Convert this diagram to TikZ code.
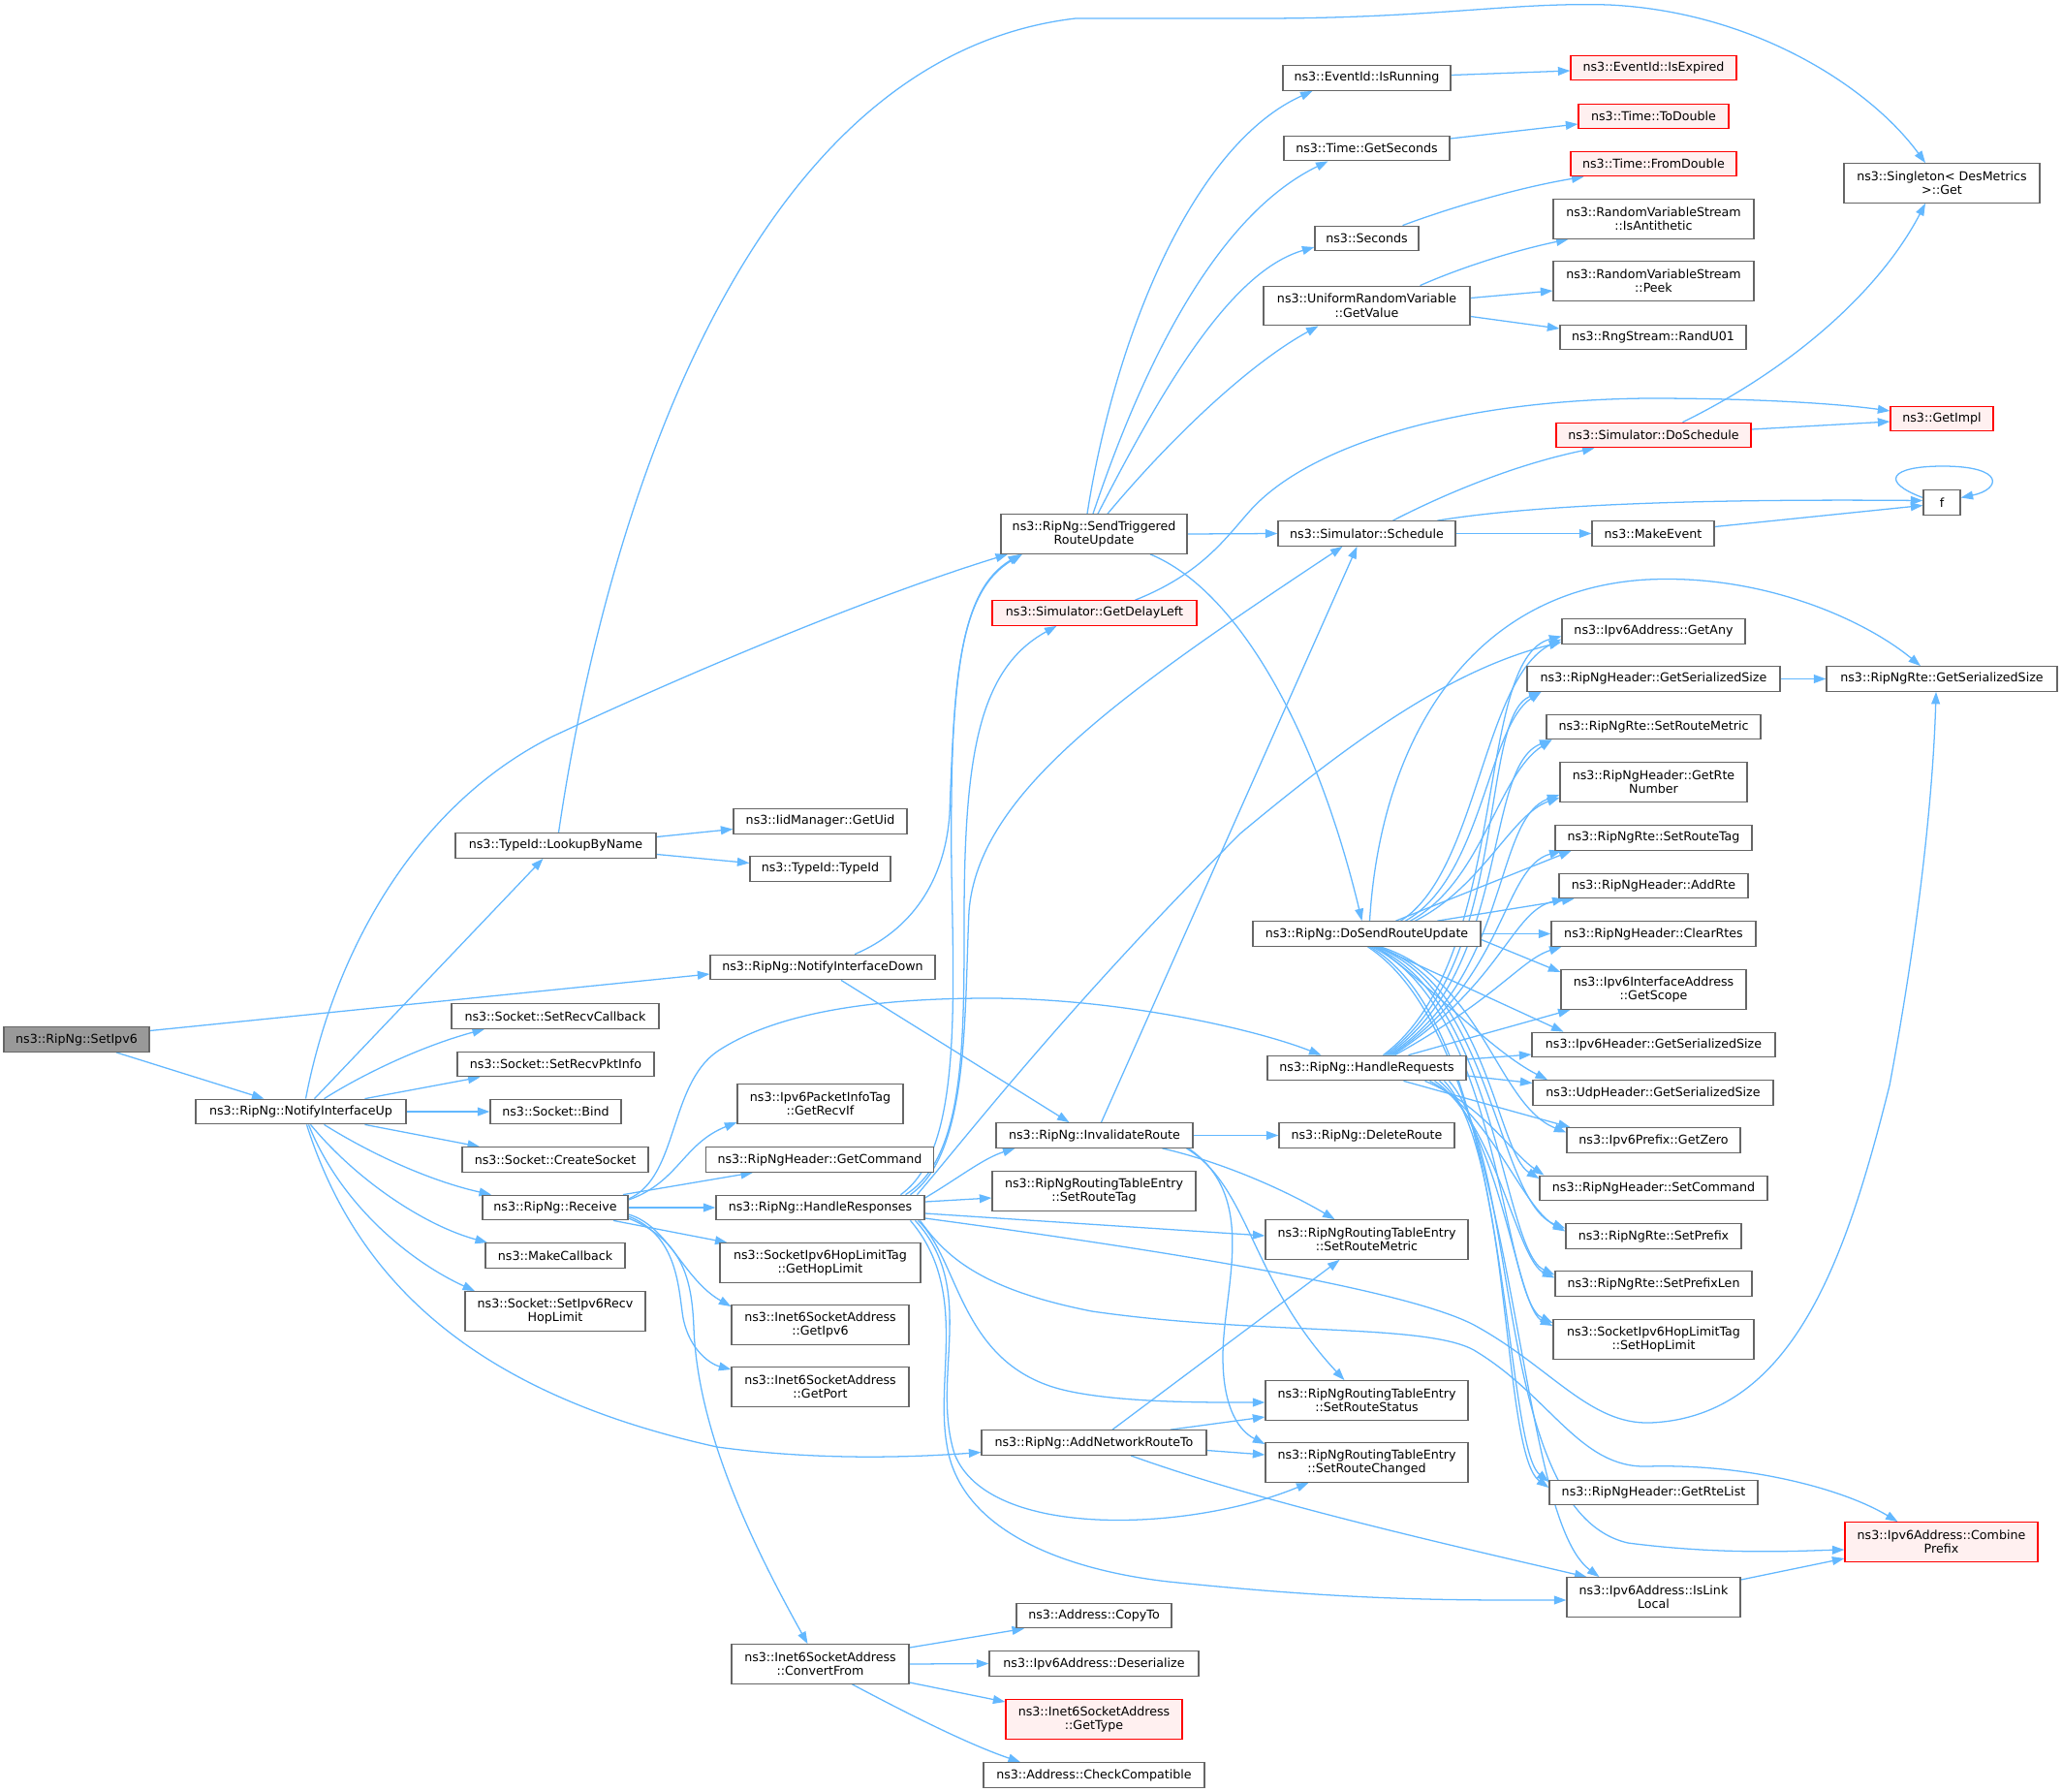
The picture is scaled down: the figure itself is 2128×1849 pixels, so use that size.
\documentclass[tikz,border=0pt]{standalone}
\usepackage{fontspec}
\newfontfamily\dv{DejaVu Sans}
\usetikzlibrary{arrows.meta}
\definecolor{edgec}{HTML}{63B8FF}
\definecolor{boxc}{HTML}{666666}
\definecolor{redfill}{HTML}{FFF0F0}
\definecolor{rootfill}{HTML}{999999}
\pgfdeclarelayer{bg}
\pgfsetlayers{bg,main}
\begin{document}
\begin{tikzpicture}[x=1pt,y=-1pt,
  fn/.style={draw=boxc, fill=white, line width=1.27pt, inner sep=0pt, minimum height=25.5pt, align=center, font=\dv\fontsize{12.65}{14.5}\selectfont, text=black},
  fn2/.style={fn, minimum height=40.5pt},
  rd/.style={draw=red, fill=redfill},
  rt/.style={fill=rootfill},
  e/.style={draw=edgec, line width=1.27pt, -{Triangle[length=12.5pt,width=8.8pt]}}
]
\useasboundingbox (0,0) rectangle (2128,1849);

% ---------- nodes ----------
\node[fn,rt,minimum width=150] (setipv6) at (79,1072.5) {ns3::RipNg::SetIpv6};
\node[fn,minimum width=217] (niup) at (310.5,1147) {ns3::RipNg::NotifyInterfaceUp};
\node[fn,minimum width=207] (lookup) at (573.5,872.5) {ns3::TypeId::LookupByName};
\node[fn,minimum width=179] (getuid) at (846.5,847.5) {ns3::IidManager::GetUid};
\node[fn,minimum width=145] (typeid) at (846.5,896.5) {ns3::TypeId::TypeId};
\node[fn,minimum width=232] (nidown) at (849,998) {ns3::RipNg::NotifyInterfaceDown};
\node[fn,minimum width=214] (srcb) at (573,1048.5) {ns3::Socket::SetRecvCallback};
\node[fn,minimum width=203] (srpi) at (573.5,1098) {ns3::Socket::SetRecvPktInfo};
\node[fn,minimum width=135] (bind) at (573.5,1147) {ns3::Socket::Bind};
\node[fn,minimum width=192] (csock) at (573,1196.5) {ns3::Socket::CreateSocket};
\node[fn,minimum width=150] (recv) at (573,1246) {ns3::RipNg::Receive};
\node[fn,minimum width=144] (mkcb) at (573,1295.5) {ns3::MakeCallback};
\node[fn2,minimum width=186] (sihl) at (573,1353) {ns3::Socket::SetIpv6Recv\\HopLimit};
\node[fn2,minimum width=192] (strig) at (1129,551) {ns3::RipNg::SendTriggered\\RouteUpdate};
\node[fn,rd,minimum width=211] (gdl) at (1129.5,632.5) {ns3::Simulator::GetDelayLeft};
\node[fn,minimum width=173] (irun) at (1410.5,80.5) {ns3::EventId::IsRunning};
\node[fn,minimum width=171] (gsec) at (1410.5,153) {ns3::Time::GetSeconds};
\node[fn,minimum width=107] (secs) at (1410.5,246) {ns3::Seconds};
\node[fn2,minimum width=213] (urv) at (1410.5,315.5) {ns3::UniformRandomVariable\\::GetValue};
\node[fn,minimum width=183] (sched) at (1410.5,550.5) {ns3::Simulator::Schedule};
\node[fn,rd,minimum width=171] (isexp) at (1706.5,70) {ns3::EventId::IsExpired};
\node[fn,rd,minimum width=155] (todbl) at (1706.5,120) {ns3::Time::ToDouble};
\node[fn,rd,minimum width=171] (fromdbl) at (1706.5,169) {ns3::Time::FromDouble};
\node[fn2,minimum width=207] (anti) at (1706.5,226) {ns3::RandomVariableStream\\::IsAntithetic};
\node[fn2,minimum width=207] (peek) at (1706.5,290) {ns3::RandomVariableStream\\::Peek};
\node[fn,minimum width=192] (randu) at (1706,348) {ns3::RngStream::RandU01};
\node[fn2,minimum width=202] (singleton) at (2004,189) {ns3::Singleton< DesMetrics\\ >::Get};
\node[fn,rd,minimum width=106] (getimpl) at (2004,432) {ns3::GetImpl};
\node[fn,rd,minimum width=201] (dosched) at (1706.5,449) {ns3::Simulator::DoSchedule};
\node[fn,minimum width=38] (f) at (2004,518.5) {f};
\node[fn,minimum width=126] (mkev) at (1706,550.5) {ns3::MakeEvent};
\node[fn,minimum width=235] (dosend) at (1410.5,963.5) {ns3::RipNg::DoSendRouteUpdate};
\node[fn,minimum width=205] (hreq) at (1410.5,1102) {ns3::RipNg::HandleRequests};
\node[fn,minimum width=203] (inval) at (1129.5,1171.5) {ns3::RipNg::InvalidateRoute};
\node[fn,minimum width=181] (delr) at (1410.5,1171.5) {ns3::RipNg::DeleteRoute};
\node[fn2,minimum width=210] (rtag) at (1129,1229) {ns3::RipNgRoutingTableEntry\\::SetRouteTag};
\node[fn2,minimum width=209] (rmet) at (1410.5,1279) {ns3::RipNgRoutingTableEntry\\::SetRouteMetric};
\node[fn2,minimum width=209] (rstat) at (1410.5,1445) {ns3::RipNgRoutingTableEntry\\::SetRouteStatus};
\node[fn2,minimum width=209] (rchg) at (1410.5,1509) {ns3::RipNgRoutingTableEntry\\::SetRouteChanged};
\node[fn,minimum width=232] (addnet) at (1129,1488.5) {ns3::RipNg::AddNetworkRouteTo};
\node[fn,minimum width=215] (hresp) at (846.5,1246) {ns3::RipNg::HandleResponses};
\node[fn2,minimum width=171] (recvif) at (846.5,1139) {ns3::Ipv6PacketInfoTag\\::GetRecvIf};
\node[fn,minimum width=235] (getcmd) at (846,1196.5) {ns3::RipNgHeader::GetCommand};
\node[fn2,minimum width=207] (gethl) at (846.5,1303) {ns3::SocketIpv6HopLimitTag\\::GetHopLimit};
\node[fn2,minimum width=183] (getipv6) at (846.5,1367) {ns3::Inet6SocketAddress\\::GetIpv6};
\node[fn2,minimum width=183] (getport) at (846.5,1431) {ns3::Inet6SocketAddress\\::GetPort};
\node[fn2,minimum width=183] (convfrom) at (846.5,1717) {ns3::Inet6SocketAddress\\::ConvertFrom};
\node[fn,minimum width=160] (copyto) at (1129,1667) {ns3::Address::CopyTo};
\node[fn,minimum width=216] (deser) at (1129,1716.5) {ns3::Ipv6Address::Deserialize};
\node[fn2,rd,minimum width=182] (gettype) at (1129,1774) {ns3::Inet6SocketAddress\\::GetType};
\node[fn,minimum width=228] (checkc) at (1129,1831.5) {ns3::Address::CheckCompatible};
\node[fn,minimum width=189] (getany) at (1706.5,651.5) {ns3::Ipv6Address::GetAny};
\node[fn,minimum width=261] (hgss) at (1706.5,700.5) {ns3::RipNgHeader::GetSerializedSize};
\node[fn,minimum width=238] (rtegss) at (2004,700.5) {ns3::RipNgRte::GetSerializedSize};
\node[fn,minimum width=221] (rsmet) at (1706.5,750) {ns3::RipNgRte::SetRouteMetric};
\node[fn2,minimum width=193] (grtenum) at (1706.5,807) {ns3::RipNgHeader::GetRte\\Number};
\node[fn,minimum width=203] (rstag) at (1706.5,864.5) {ns3::RipNgRte::SetRouteTag};
\node[fn,minimum width=195] (addrte) at (1706.5,914) {ns3::RipNgHeader::AddRte};
\node[fn,minimum width=211] (clr) at (1706.5,963.5) {ns3::RipNgHeader::ClearRtes};
\node[fn2,minimum width=191] (scope) at (1706.5,1021) {ns3::Ipv6InterfaceAddress\\::GetScope};
\node[fn,minimum width=251] (ip6gss) at (1706.5,1078) {ns3::Ipv6Header::GetSerializedSize};
\node[fn,minimum width=248] (udpgss) at (1706,1127.5) {ns3::UdpHeader::GetSerializedSize};
\node[fn,minimum width=179] (zero) at (1706.5,1176.5) {ns3::Ipv6Prefix::GetZero};
\node[fn,minimum width=235] (setcmd) at (1706.5,1226) {ns3::RipNgHeader::SetCommand};
\node[fn,minimum width=181] (spfx) at (1706.5,1275.5) {ns3::RipNgRte::SetPrefix};
\node[fn,minimum width=203] (spfxl) at (1706.5,1324.5) {ns3::RipNgRte::SetPrefixLen};
\node[fn2,minimum width=207] (shl) at (1706.5,1382) {ns3::SocketIpv6HopLimitTag\\::SetHopLimit};
\node[fn,minimum width=215] (rtelist) at (1706.5,1540) {ns3::RipNgHeader::GetRteList};
\node[fn2,rd,minimum width=199] (comb) at (2003.5,1591) {ns3::Ipv6Address::Combine\\Prefix};
\node[fn2,minimum width=179] (islink) at (1706.5,1648) {ns3::Ipv6Address::IsLink\\Local};

% ---------- edges ----------
\begin{pgfonlayer}{bg}
\fill[white] (0,0) rectangle (2128,1849);
% SetIpv6
\draw[e] ([xshift=41pt]setipv6.south) -- ([xshift=-38pt]niup.north);
\draw[e] ([yshift=9pt]setipv6.east) -- ([yshift=-7pt]nidown.west);
% NotifyInterfaceUp
\draw[e] ([xshift=14pt]niup.north) -- ([xshift=-13pt]lookup.south);
\draw[e] ([xshift=5pt]niup.north) .. controls (345,980) and (430,830) .. (570,760) .. controls (720,690) and (900,615) .. ([xshift=-89pt]strig.south);
\draw[e] ([xshift=24pt]niup.north) .. controls (380,1105) and (440,1078) .. ([xshift=-73pt]srcb.south);
\draw[e] ([xshift=66pt]niup.north) -- ([xshift=-78pt]srpi.south);
\draw[e] (niup.east) -- (bind.west);
\draw[e] ([xshift=66pt]niup.south) -- ([xshift=-78pt]csock.north);
\draw[e] ([xshift=24pt]niup.south) .. controls (390,1195) and (450,1220) .. ([xshift=-66pt]recv.north);
\draw[e] ([xshift=10pt]niup.south) .. controls (370,1220) and (440,1265) .. ([xshift=-70pt]mkcb.north);
\draw[e] ([xshift=8pt]niup.south) .. controls (350,1240) and (420,1300) .. ([xshift=-83pt]sihl.north);
\draw[e] ([xshift=6pt]niup.south) .. controls (370,1330) and (500,1440) .. (740,1493) .. controls (850,1508) and (950,1503) .. ([yshift=-10pt]addnet.west);
% LookupByName
\draw[e] ([yshift=9pt]lookup.east) -- ([yshift=-8pt]getuid.west);
\draw[e] ([yshift=-9pt]lookup.east) -- ([yshift=6pt]typeid.west);
\draw[e] ([xshift=3pt]lookup.north) .. controls (620,560) and (760,60) .. (1110,19) -- (1300,19) .. controls (1480,19) and (1560,2) .. (1660,5) .. controls (1810,12) and (1930,90) .. ([xshift=-17pt]singleton.north);
% NotifyInterfaceDown
\draw[e] ([xshift=33pt]nidown.north) .. controls (940,960) and (975,910) .. (980,840) .. controls (985,700) and (990,610) .. ([xshift=-76pt]strig.south);
\draw[e] ([xshift=19pt]nidown.south) -- ([xshift=-26pt]inval.north);
% Receive
\draw[e] ([yshift=9pt]recv.east) .. controls (700,1215) and (690,1120) .. (740,1085) .. controls (800,1045) and (900,1030) .. (1020,1030) .. controls (1150,1030) and (1290,1060) .. ([xshift=-47pt]hreq.north);
\draw[e] ([yshift=8pt]recv.east) .. controls (700,1220) and (705,1180) .. ([yshift=-19pt]recvif.west);
\draw[e] ([xshift=70pt]recv.north) -- ([xshift=-69pt]getcmd.south);
\draw[e] (recv.east) -- (hresp.west);
\draw[e] ([xshift=60pt]recv.south) -- ([xshift=-96pt]gethl.north);
\draw[e] ([yshift=-7pt]recv.east) .. controls (690,1265) and (705,1320) .. ([yshift=19pt]getipv6.west);
\draw[e] ([yshift=-9pt]recv.east) .. controls (700,1275) and (700,1330) .. (705,1360) .. controls (712,1395) and (735,1408) .. ([yshift=18pt]getport.west);
\draw[e] ([yshift=-11pt]recv.east) .. controls (705,1280) and (714,1320) .. (716,1370) .. controls (720,1480) and (780,1600) .. ([xshift=-13pt]convfrom.north);
% HandleResponses
\draw[e] ([xshift=83pt]hresp.north) .. controls (990,1190) and (985,1050) .. (982,900) .. controls (980,700) and (990,610) .. ([xshift=-74pt]strig.south);
\draw[e] ([xshift=88pt]hresp.north) .. controls (995,1195) and (995,1080) .. (995,950) .. controls (995,780) and (1010,690) .. ([xshift=-39pt]gdl.south);
\draw[e] ([xshift=93pt]hresp.north) .. controls (1000,1190) and (995,1050) .. (1000,940) .. controls (1010,820) and (1150,720) .. ([xshift=-25pt]sched.south);
\draw[e] ([xshift=100pt]hresp.north) .. controls (1000,1170) and (1100,1040) .. (1280,860) .. controls (1400,760) and (1500,690) .. ([yshift=-11pt]getany.west);
\draw[e] ([yshift=10pt]hresp.east) .. controls (990,1215) and (1015,1195) .. ([xshift=-82pt]inval.south);
\draw[e] ([yshift=6pt]hresp.east) -- ([yshift=-7pt]rtag.west);
\draw[e] ([yshift=-6pt]hresp.east) -- ([yshift=4pt]rmet.west);
\draw[e] ([yshift=-11pt]hresp.east) .. controls (1200,1290) and (1450,1330) .. (1521,1367) .. controls (1600,1410) and (1640,1470) .. (1703,1468) .. controls (1850,1462) and (1905,1300) .. (1950,1120) .. controls (1980,960) and (1995,820) .. ([xshift=-6pt]rtegss.south);
\draw[e] ([xshift=103pt]hresp.south) .. controls (975,1295) and (1010,1330) .. (1127,1353) .. controls (1300,1378) and (1470,1365) .. (1521,1393) .. controls (1600,1440) and (1630,1515) .. (1700,1513) .. controls (1800,1510) and (1900,1535) .. ([xshift=-45pt]comb.north);
\draw[e] ([xshift=101pt]hresp.south) .. controls (990,1300) and (990,1405) .. (1093,1433) .. controls (1150,1448) and (1250,1447) .. ([yshift=-2pt]rstat.west);
\draw[e] ([xshift=98pt]hresp.south) .. controls (1010,1330) and (960,1420) .. (985,1500) .. controls (1020,1590) and (1230,1580) .. ([xshift=-60pt]rchg.south);
\draw[e] ([xshift=93pt]hresp.south) .. controls (1000,1330) and (965,1420) .. (977,1490) .. controls (990,1580) and (1100,1620) .. (1206,1632) .. controls (1400,1652) and (1500,1651) .. ([yshift=-3pt]islink.west);
% SendTriggeredRouteUpdate
\draw[e] ([xshift=-7pt]strig.north) .. controls (1150,350) and (1230,150) .. ([xshift=-56pt]irun.south);
\draw[e] ([xshift=-1pt]strig.north) .. controls (1175,390) and (1250,225) .. ([xshift=-40pt]gsec.south);
\draw[e] ([xshift=4pt]strig.north) .. controls (1200,400) and (1270,280) .. ([yshift=-9pt]secs.west);
\draw[e] ([xshift=14pt]strig.north) .. controls (1210,450) and (1290,375) .. ([xshift=-50pt]urv.south);
\draw[e] (strig.east) -- (sched.west);
\draw[e] ([xshift=58pt]strig.south) .. controls (1280,610) and (1360,760) .. ([xshift=-5pt]dosend.north);
% GetDelayLeft
\draw[e] ([xshift=42pt]gdl.north) .. controls (1240,592) and (1265,555) .. (1290,527) .. controls (1350,460) and (1500,413) .. (1700,411) .. controls (1820,411) and (1900,417) .. ([yshift=8pt]getimpl.west);
% upper right
\draw[e] ([yshift=3pt]irun.east) -- ([yshift=-3pt]isexp.west);
\draw[e] ([yshift=10pt]gsec.east) -- ([yshift=-8pt]todbl.west);
\draw[e] ([xshift=37pt]secs.north) .. controls (1500,213) and (1570,193) .. ([xshift=-72pt]fromdbl.south);
\draw[e] ([xshift=55pt]urv.north) .. controls (1510,275) and (1565,258) .. ([xshift=-88pt]anti.south);
\draw[e] ([yshift=8pt]urv.east) -- ([yshift=-10pt]peek.west);
\draw[e] ([yshift=-11pt]urv.east) -- ([yshift=9pt]randu.west);
\draw[e] ([xshift=30pt]dosched.north) .. controls (1850,380) and (1940,300) .. ([xshift=-17pt]singleton.south);
\draw[e] ([yshift=6pt]dosched.east) -- ([yshift=-3pt]getimpl.west);
\draw[e] ([xshift=27pt]sched.north) .. controls (1500,505) and (1570,478) .. ([xshift=-61pt]dosched.south);
\draw[e] ([xshift=73pt]sched.north) .. controls (1600,518) and (1800,515) .. ([yshift=2pt]f.west);
\draw[e] (sched.east) -- (mkev.west);
\draw[e] ([yshift=7pt]mkev.east) -- ([yshift=-3pt]f.west);
\draw[e] ([yshift=5pt]f.west) .. controls (1940,497) and (1950,481) .. (2005,481) .. controls (2070,481) and (2065,505) .. ([yshift=5pt]f.east);
% InvalidateRoute
\draw[e] ([xshift=7pt]inval.north) -- ([xshift=-10pt]sched.south);
\draw[e] (inval.east) -- (delr.west);
\draw[e] ([xshift=70pt]inval.south) .. controls (1265,1200) and (1330,1230) .. ([xshift=-33pt]rmet.north);
\draw[e] ([xshift=95pt]inval.south) .. controls (1290,1225) and (1290,1320) .. ([xshift=-23pt]rstat.north);
\draw[e] ([xshift=97pt]inval.south) .. controls (1300,1235) and (1262,1330) .. (1262,1400) .. controls (1262,1455) and (1280,1477) .. ([yshift=19pt]rchg.west);
% AddNetworkRouteTo
\draw[e] ([xshift=19pt]addnet.north) -- ([xshift=-28pt]rmet.south);
\draw[e] ([xshift=79pt]addnet.north) -- ([yshift=-17pt]rstat.west);
\draw[e] ([yshift=-8pt]addnet.east) -- ([yshift=8pt]rchg.west);
\draw[e] ([xshift=38pt]addnet.south) .. controls (1300,1550) and (1500,1595) .. ([xshift=-69pt]islink.north);
% ConvertFrom
\draw[e] ([yshift=17pt]convfrom.east) -- ([xshift=-72pt]copyto.south);
\draw[e] (convfrom.east) -- (deser.west);
\draw[e] ([yshift=-19pt]convfrom.east) -- ([yshift=18pt]gettype.west);
\draw[e] ([xshift=33pt]convfrom.south) .. controls (940,1770) and (1000,1800) .. ([xshift=-76pt]checkc.north);
% misc right
\draw[e] (hgss.east) -- (rtegss.west);
\draw[e] ([yshift=18pt]islink.east) -- ([yshift=-17pt]comb.west);
% DoSendRouteUpdate
\draw[e] ([xshift=3pt]dosend.north) .. controls (1425,760) and (1520,608) .. (1700,598) .. controls (1820,592) and (1925,640) .. ([xshift=-22pt]rtegss.north);
\draw[e] ([xshift=35pt]dosend.north) .. controls (1525,900) and (1530,700) .. ([yshift=-8pt]getany.west);
\draw[e] ([xshift=40pt]dosend.north) .. controls (1530,905) and (1535,750) .. ([xshift=-116pt]hgss.south);
\draw[e] ([xshift=45pt]dosend.north) .. controls (1530,910) and (1545,800) .. ([xshift=-105pt]rsmet.south);
\draw[e] ([xshift=50pt]dosend.north) .. controls (1530,915) and (1560,840) .. ([yshift=-16pt]grtenum.west);
\draw[e] ([xshift=30pt]dosend.north) -- ([xshift=-85pt]rstag.south);
\draw[e] ([xshift=73pt]dosend.north) -- ([xshift=-82pt]addrte.south);
\draw[e] (dosend.east) -- (clr.west);
\draw[e] ([yshift=-6pt]dosend.east) -- ([yshift=18pt]scope.west);
\draw[e] ([xshift=12pt]dosend.south) -- ([xshift=-93pt]ip6gss.north);
\draw[e] ([xshift=10pt]dosend.south) .. controls (1480,1020) and (1540,1085) .. ([xshift=-109pt]udpgss.north);
\draw[e] ([xshift=14pt]dosend.south) .. controls (1530,1010) and (1545,1140) .. ([yshift=8pt]zero.west);
\draw[e] ([xshift=11pt]dosend.south) .. controls (1535,1015) and (1545,1190) .. ([yshift=10pt]setcmd.west);
\draw[e] ([xshift=9pt]dosend.south) .. controls (1540,1020) and (1545,1240) .. ([yshift=8pt]spfx.west);
\draw[e] ([xshift=7pt]dosend.south) .. controls (1545,1030) and (1550,1290) .. ([yshift=9pt]spfxl.west);
\draw[e] ([xshift=5pt]dosend.south) .. controls (1550,1040) and (1550,1340) .. ([yshift=17pt]shl.west);
\draw[e] ([xshift=3pt]dosend.south) .. controls (1560,1060) and (1550,1490) .. ([yshift=11pt]rtelist.west);
\draw[e] ([xshift=1pt]dosend.south) .. controls (1570,1080) and (1560,1560) .. ([xshift=-56pt]islink.north);
% HandleRequests
\draw[e] ([xshift=17pt]hreq.north) .. controls (1560,990) and (1520,680) .. ([yshift=-5pt]getany.west);
\draw[e] ([xshift=19pt]hreq.north) .. controls (1560,995) and (1525,740) .. ([xshift=-116pt]hgss.south);
\draw[e] ([xshift=21pt]hreq.north) .. controls (1560,1000) and (1530,790) .. ([xshift=-105pt]rsmet.south);
\draw[e] ([xshift=23pt]hreq.north) .. controls (1560,1005) and (1540,845) .. ([yshift=-13pt]grtenum.west);
\draw[e] ([xshift=25pt]hreq.north) .. controls (1555,1010) and (1550,895) .. ([xshift=-95pt]rstag.south);
\draw[e] ([xshift=27pt]hreq.north) .. controls (1550,1015) and (1560,940) .. ([xshift=-92pt]addrte.south);
\draw[e] ([xshift=29pt]hreq.north) .. controls (1545,1030) and (1570,990) .. ([xshift=-95pt]clr.south);
\draw[e] ([xshift=43pt]hreq.north) -- ([xshift=-86pt]scope.south);
\draw[e] ([yshift=9pt]hreq.east) -- ([yshift=-10pt]ip6gss.west);
\draw[e] ([yshift=-8pt]hreq.east) -- ([yshift=10pt]udpgss.west);
\draw[e] ([xshift=38pt]hreq.south) -- ([xshift=-86pt]zero.north);
\draw[e] ([xshift=60pt]hreq.south) .. controls (1530,1140) and (1560,1190) .. ([xshift=-113pt]setcmd.north);
\draw[e] ([xshift=65pt]hreq.south) .. controls (1540,1150) and (1570,1245) .. ([yshift=5pt]spfx.west);
\draw[e] ([xshift=70pt]hreq.south) .. controls (1545,1160) and (1565,1300) .. ([yshift=6pt]spfxl.west);
\draw[e] ([xshift=75pt]hreq.south) .. controls (1550,1170) and (1565,1350) .. ([yshift=14pt]shl.west);
\draw[e] ([xshift=80pt]hreq.south) .. controls (1560,1190) and (1550,1500) .. ([yshift=5pt]rtelist.west);
\draw[e] ([xshift=85pt]hreq.south) .. controls (1570,1200) and (1540,1560) .. (1680,1592) .. controls (1780,1605) and (1860,1600) .. ([yshift=-8pt]comb.west);
\end{pgfonlayer}
\end{tikzpicture}
\end{document}
